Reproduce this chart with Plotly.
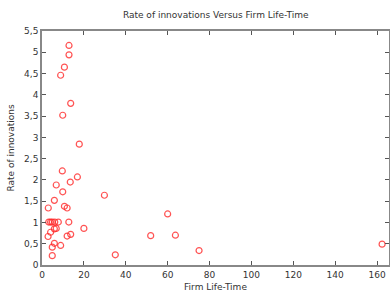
import plotly.graph_objects as go

life_time = [12.9, 12.9, 10.7, 8.9, 13.7, 9.9,
             17.8, 9.7, 16.9, 13.5, 6.8, 9.9,
             5.9, 3.0, 10.7, 12.0,
             3.2, 4.1, 4.9, 6.1, 7.8, 12.8,
             20.0, 6.8, 5.9, 4.1, 2.9, 13.7, 12.0,
             5.9, 8.9, 4.9, 4.9,
             29.8, 51.9, 35.0, 60.0, 63.7, 75.0, 162.4]
rate = [5.16, 4.94, 4.65, 4.46, 3.80, 3.52,
        2.84, 2.21, 2.07, 1.95, 1.88, 1.72,
        1.52, 1.34, 1.38, 1.34,
        1.01, 1.01, 1.01, 1.01, 1.01, 1.01,
        0.86, 0.86, 0.85, 0.77, 0.67, 0.72, 0.68,
        0.51, 0.46, 0.42, 0.22,
        1.64, 0.69, 0.24, 1.20, 0.70, 0.34, 0.49]

x_ticks = [0, 20, 40, 60, 80, 100, 120, 140, 160]
y_ticks = [0, 0.5, 1, 1.5, 2, 2.5, 3, 3.5, 4, 4.5, 5, 5.5]
y_tick_text = ["0", "0,5", "1", "1,5", "2", "2,5", "3", "3,5", "4", "4,5", "5", "5,5"]

font = dict(family="DejaVu Sans", size=9, color="#333333")

fig = go.Figure(go.Scatter(
    x=life_time, y=rate, mode="markers",
    marker=dict(symbol="circle-open", size=6, color="rgba(255,40,40,0.8)",
                line=dict(width=1.2, color="rgba(255,40,40,0.8)")),
    cliponaxis=False,
))

fig.update_layout(
    width=390, height=292,
    margin=dict(l=42, r=1, t=31, b=27, autoexpand=False),
    paper_bgcolor="white", plot_bgcolor="white",
    showlegend=False,
    font=font,
    title=dict(text="Rate of innovations Versus Firm Life-Time", x=0.553, xanchor="center",
               y=0.948, yanchor="middle", font=dict(family="DejaVu Sans", size=9, color="#333333")),
)
fig.update_xaxes(
    range=[0, 165.7], tickvals=x_ticks, ticks="inside", ticklen=4, tickcolor="#555555",
    showline=True, linecolor="#888888", linewidth=1.5, mirror="ticks", showgrid=False, zeroline=False,
    automargin=False,
    title=dict(text="Firm Life-Time", standoff=8, font=font), tickfont=font,
)
fig.update_yaxes(
    range=[0, 5.5], tickvals=y_ticks, ticktext=y_tick_text, ticks="inside", ticklen=4,
    tickcolor="#555555", showline=True, linecolor="#888888", linewidth=1.5, mirror="ticks",
    showgrid=False, zeroline=False, automargin=False,
    title=dict(text="Rate of innovations", standoff=8, font=font), tickfont=font,
)

fig.write_html("out.html", config={"displayModeBar": False},
               post_script="document.body.style.margin='0';document.body.style.padding='0';")
